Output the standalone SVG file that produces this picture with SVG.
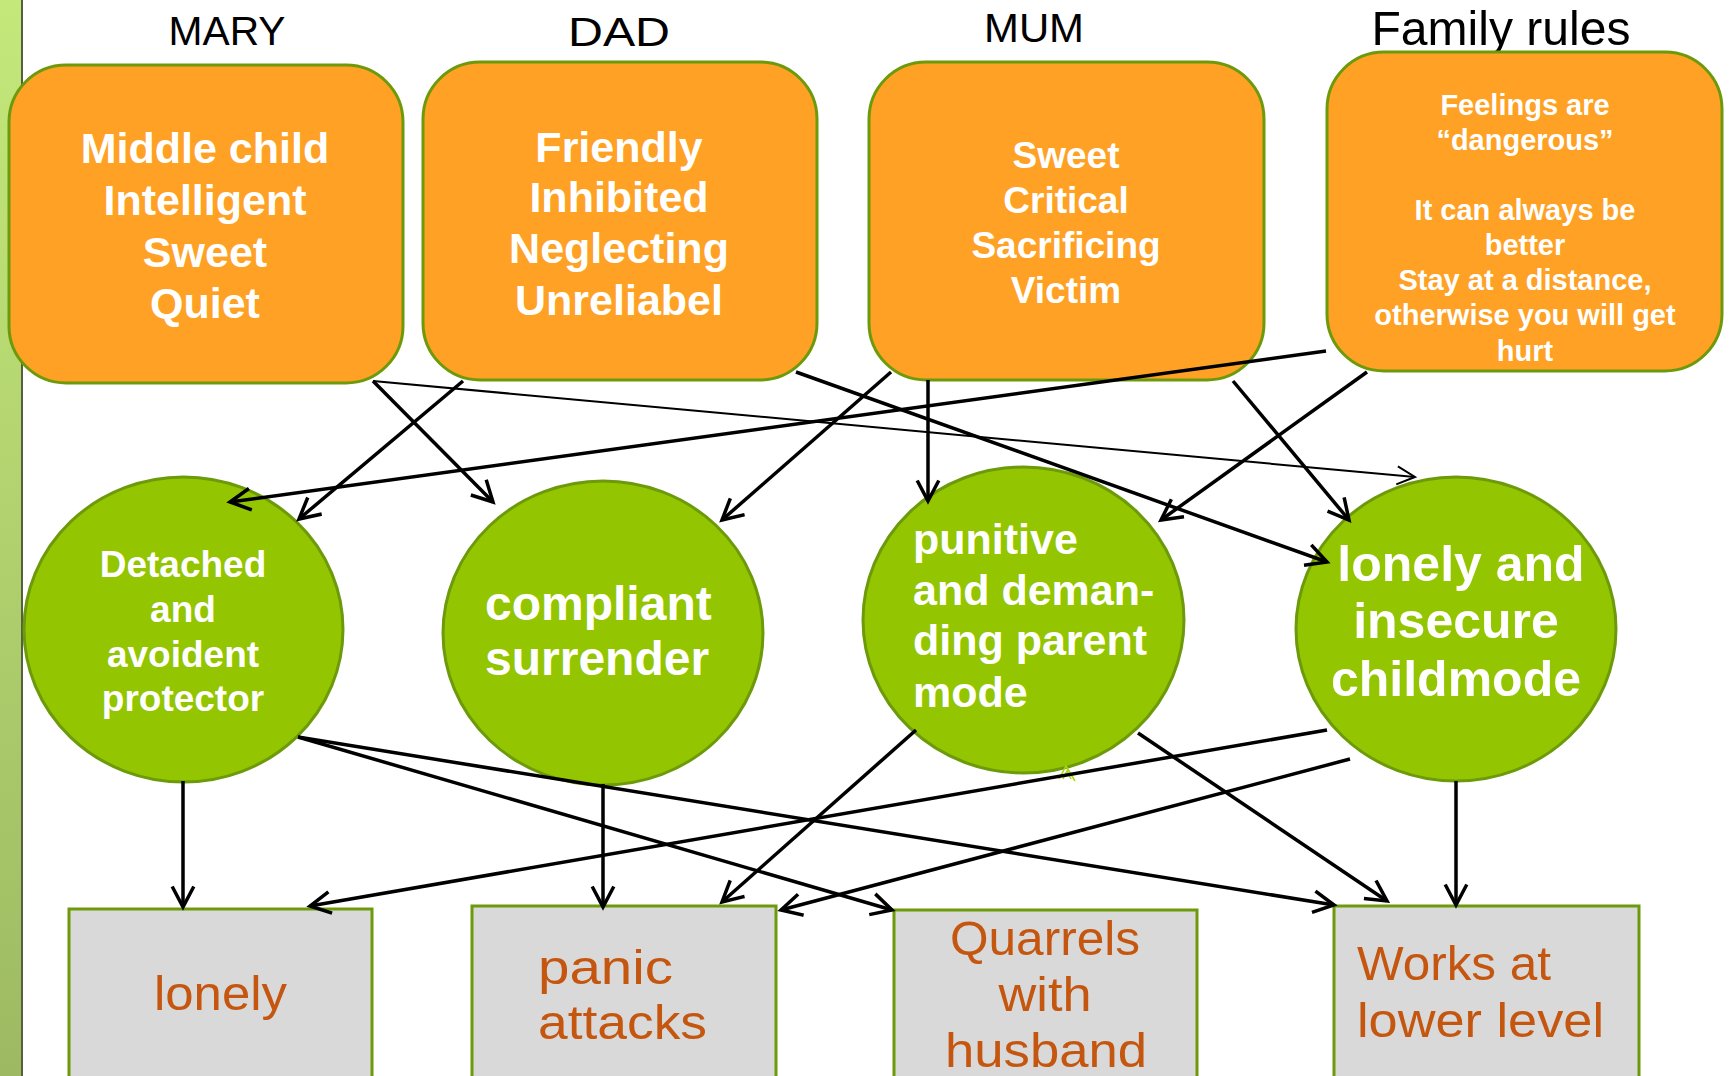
<svg xmlns="http://www.w3.org/2000/svg" width="1729" height="1076" viewBox="0 0 1729 1076">
<defs>
<linearGradient id="bar" x1="0" y1="0" x2="0" y2="1">
<stop offset="0" stop-color="#c4e87a"/>
<stop offset="1" stop-color="#9dba62"/>
</linearGradient>
<marker id="arr" markerUnits="userSpaceOnUse" markerWidth="40" markerHeight="40" viewBox="-30 -20 40 40" refX="0" refY="0" orient="auto" overflow="visible">
<path d="M-19,-10 L0,0 L-19,10" fill="none" stroke="#000" stroke-width="3.5" stroke-linecap="square"/>
</marker>
<marker id="arrThin" markerUnits="userSpaceOnUse" markerWidth="40" markerHeight="40" viewBox="-30 -20 40 40" refX="0" refY="0" orient="auto" overflow="visible">
<path d="M-18,-9 L0,0 L-18,9" fill="none" stroke="#000" stroke-width="2"/>
</marker>
</defs>
<style>
.hdr{font-family:"Liberation Sans",Arial,sans-serif;font-size:40px;fill:#000;text-anchor:middle}
.box{fill:#fea124;stroke:#6c9a0b;stroke-width:3}
.ell{fill:#93c500;stroke:#6c9a0b;stroke-width:3}
.out{fill:#d9d9d9;stroke:#6c9a0b;stroke-width:3}
.wt{font-family:"Liberation Sans",Arial,sans-serif;font-weight:bold;fill:#fff;text-anchor:middle}
.wl{font-family:"Liberation Sans",Arial,sans-serif;font-weight:bold;fill:#fff}
.ot{font-family:"Liberation Sans",Arial,sans-serif;font-size:48px;fill:#c5560f}
.c{fill:none;stroke:#000;stroke-width:3.5;marker-end:url(#arr)}
.ct{fill:none;stroke:#000;stroke-width:2;marker-end:url(#arrThin)}
</style>
<rect x="0" y="0" width="1729" height="1076" fill="#fff"/>
<g id="sidebar">
<rect x="0" y="0" width="22" height="1076" fill="url(#bar)"/>
<line x1="22" y1="0" x2="22" y2="1076" stroke="#55603f" stroke-width="2"/>
</g>
<g id="headers">
<text class="hdr" x="227" y="45" textLength="117" lengthAdjust="spacingAndGlyphs">MARY</text>
<text class="hdr" x="619" y="46" textLength="102" lengthAdjust="spacingAndGlyphs">DAD</text>
<text class="hdr" x="1034" y="42" font-size="39" textLength="100" lengthAdjust="spacingAndGlyphs">MUM</text>
<text class="hdr" x="1501" y="45" style="font-size:48px" textLength="259" lengthAdjust="spacingAndGlyphs">Family rules</text>
</g>
<g id="mary">
<rect class="box" x="9" y="65" width="394" height="318" rx="57"/>
<text class="wt" style="font-size:43px"><tspan x="205" y="163">Middle child</tspan><tspan x="205" y="215">Intelligent</tspan><tspan x="205" y="267">Sweet</tspan><tspan x="205" y="318">Quiet</tspan></text>
</g>
<g id="dad">
<rect class="box" x="423" y="62" width="394" height="318" rx="57"/>
<text class="wt" style="font-size:43px"><tspan x="619" y="162">Friendly</tspan><tspan x="619" y="212">Inhibited</tspan><tspan x="619" y="263">Neglecting</tspan><tspan x="619" y="315">Unreliabel</tspan></text>
</g>
<g id="mum">
<rect class="box" x="869" y="62" width="395" height="318" rx="57"/>
<text class="wt" style="font-size:37px"><tspan x="1066" y="168">Sweet</tspan><tspan x="1066" y="213">Critical</tspan><tspan x="1066" y="258">Sacrificing</tspan><tspan x="1066" y="303">Victim</tspan></text>
</g>
<g id="rules">
<rect class="box" x="1327" y="52" width="395" height="319" rx="57"/>
<text class="wt" style="font-size:29px"><tspan x="1525" y="115">Feelings are</tspan><tspan x="1525" y="150">“dangerous”</tspan><tspan x="1525" y="220">It can always be</tspan><tspan x="1525" y="255">better</tspan><tspan x="1525" y="290">Stay at a distance,</tspan><tspan x="1525" y="325">otherwise you will get</tspan><tspan x="1525" y="361">hurt</tspan></text>
</g>
<g id="detached">
<ellipse class="ell" cx="183.5" cy="629.5" rx="159.5" ry="152.5"/>
<text class="wt" style="font-size:37px"><tspan x="183" y="577">Detached</tspan><tspan x="183" y="622">and</tspan><tspan x="183" y="667">avoident</tspan><tspan x="183" y="711">protector</tspan></text>
</g>
<g id="compliant">
<ellipse class="ell" cx="603" cy="633" rx="160" ry="152"/>
<text class="wl" style="font-size:48px"><tspan x="485" y="620">compliant</tspan><tspan x="485" y="675">surrender</tspan></text>
</g>
<g id="punitive">
<ellipse class="ell" cx="1023.5" cy="620" rx="160.5" ry="153"/>
<text class="wl" style="font-size:43px"><tspan x="913" y="554">punitive</tspan><tspan x="913" y="605">and deman-</tspan><tspan x="913" y="655">ding parent</tspan><tspan x="913" y="707">mode</tspan></text>
<path d="M1059,779 L1066,766 L1075,781 M1063,779 L1067,771 L1071,779" fill="none" stroke="#a6d80e" stroke-width="1.5"/>
</g>
<g id="lonelychild">
<ellipse class="ell" cx="1456" cy="629" rx="160" ry="152"/>
<text class="wt" style="font-size:50px"><tspan x="1461" y="581">lonely and</tspan><tspan x="1456" y="638">insecure</tspan><tspan x="1456" y="696">childmode</tspan></text>
</g>
<g id="lonely">
<rect class="out" x="69" y="909" width="303" height="170"/>
<text class="ot" x="154" y="1010" textLength="133" lengthAdjust="spacingAndGlyphs">lonely</text>
</g>
<g id="panic">
<rect class="out" x="472" y="906" width="304" height="173"/>
<text class="ot"><tspan x="538" y="984" textLength="135" lengthAdjust="spacingAndGlyphs">panic</tspan><tspan x="538" y="1039" textLength="169" lengthAdjust="spacingAndGlyphs">attacks</tspan></text>
</g>
<g id="quarrels">
<rect class="out" x="894" y="910" width="303" height="169"/>
<text class="ot" text-anchor="middle"><tspan x="1045" y="955" textLength="190" lengthAdjust="spacingAndGlyphs">Quarrels</tspan><tspan x="1045" y="1011" textLength="93" lengthAdjust="spacingAndGlyphs">with</tspan><tspan x="1046" y="1067" textLength="202" lengthAdjust="spacingAndGlyphs">husband</tspan></text>
</g>
<g id="works">
<rect class="out" x="1334" y="906" width="305" height="173"/>
<text class="ot"><tspan x="1357" y="980" textLength="194" lengthAdjust="spacingAndGlyphs">Works at</tspan><tspan x="1357" y="1037" textLength="247" lengthAdjust="spacingAndGlyphs">lower level</tspan></text>
</g>
<g id="connectors">
<line class="c" x1="373" y1="381" x2="493" y2="502"/>
<line class="c" x1="463" y1="381" x2="299" y2="519"/>
<line class="c" x1="1326" y1="351" x2="230" y2="502"/>
<line class="ct" x1="373" y1="381" x2="1415" y2="477"/>
<line class="c" x1="891" y1="372" x2="722" y2="520"/>
<line class="c" x1="928" y1="380" x2="928" y2="501"/>
<line class="c" x1="796" y1="372" x2="1327" y2="562"/>
<line class="c" x1="1367" y1="372" x2="1161" y2="520"/>
<line class="c" x1="1233" y1="381" x2="1349" y2="520"/>
<line class="c" x1="183" y1="781" x2="183" y2="907"/>
<line class="c" x1="298" y1="737" x2="892" y2="910"/>
<line class="c" x1="298" y1="737" x2="1334" y2="905"/>
<line class="c" x1="603" y1="784" x2="603" y2="907"/>
<line class="c" x1="916" y1="730" x2="722" y2="902"/>
<line class="c" x1="1138" y1="733" x2="1387" y2="901"/>
<line class="c" x1="1327" y1="730" x2="310" y2="906"/>
<line class="c" x1="1350" y1="759" x2="781" y2="910"/>
<line class="c" x1="1456" y1="781" x2="1456" y2="905"/>
</g>
</svg>
